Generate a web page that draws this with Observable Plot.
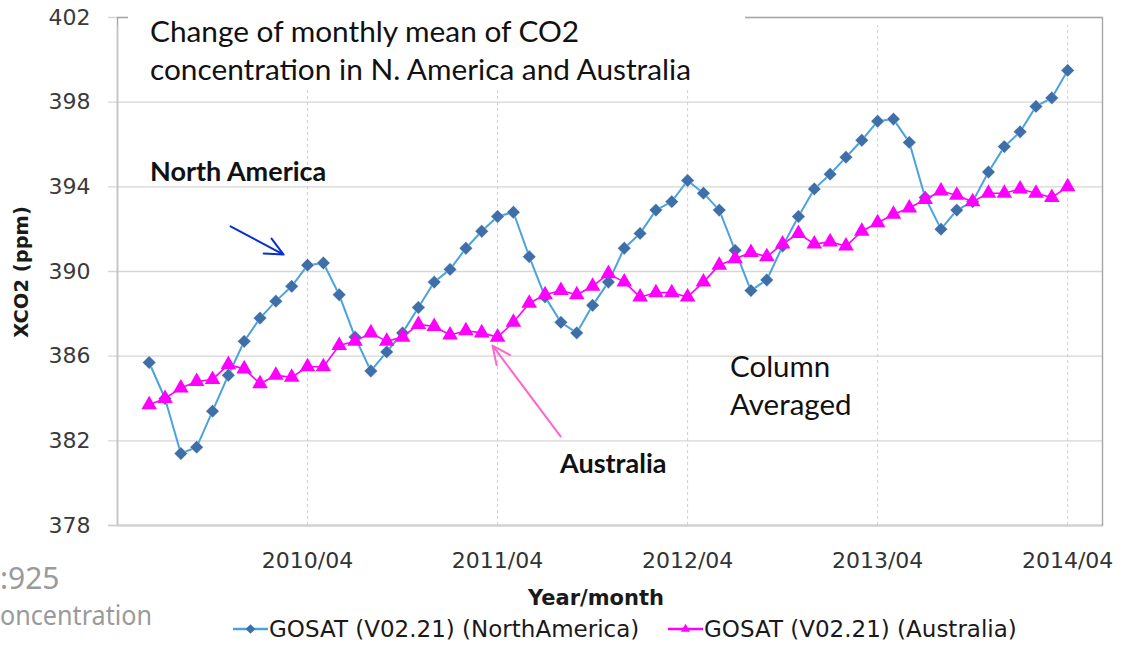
<!DOCTYPE html>
<html>
<head>
<meta charset="utf-8">
<script src="https://cdn.jsdelivr.net/npm/d3@7"></script>
<script src="https://cdn.jsdelivr.net/npm/@observablehq/plot@0.6"></script>
<style>
  body { margin: 0; background: #fff; }
  #chart { position: relative; width: 1130px; height: 649px; overflow: hidden; }
</style>
</head>
<body>
<div id="chart"></div>
<script>
// ---- Data ----
const months = [
  "2009/06","2009/07","2009/08","2009/09","2009/10","2009/11","2009/12",
  "2010/01","2010/02","2010/03","2010/04","2010/05","2010/06","2010/07","2010/08","2010/09","2010/10","2010/11","2010/12",
  "2011/01","2011/02","2011/03","2011/04","2011/05","2011/06","2011/07","2011/08","2011/09","2011/10","2011/11","2011/12",
  "2012/01","2012/02","2012/03","2012/04","2012/05","2012/06","2012/07","2012/08","2012/09","2012/10","2012/11","2012/12",
  "2013/01","2013/02","2013/03","2013/04","2013/05","2013/06","2013/07","2013/08","2013/09","2013/10","2013/11","2013/12",
  "2014/01","2014/02","2014/03","2014/04"
];
const northAmerica = [
  385.7,384.0,381.4,381.7,383.4,385.1,386.7,387.8,388.6,389.3,
  390.3,390.4,388.9,386.9,385.3,386.2,387.1,388.3,389.5,390.1,
  391.1,391.9,392.6,392.8,390.7,388.8,387.6,387.1,388.4,389.5,
  391.1,391.8,392.9,393.3,394.3,393.7,392.9,391.0,389.1,389.6,
  391.2,392.6,393.9,394.6,395.4,396.2,397.1,397.2,396.1,393.5,
  392.0,392.9,393.3,394.7,395.9,396.6,397.8,398.2,399.5
];
const australia = [
  383.7,384.0,384.5,384.8,384.9,385.6,385.4,384.7,385.1,385.0,
  385.5,385.5,386.5,386.7,387.1,386.7,386.9,387.5,387.4,387.0,
  387.2,387.1,386.9,387.6,388.5,388.9,389.1,388.9,389.3,389.9,
  389.5,388.8,389.0,389.0,388.8,389.5,390.3,390.6,390.9,390.7,
  391.3,391.8,391.3,391.4,391.2,391.9,392.3,392.7,393.0,393.4,
  393.8,393.6,393.3,393.7,393.7,393.9,393.7,393.5,394.0
];
const seriesNames = ["GOSAT (V02.21) (NorthAmerica)", "GOSAT (V02.21) (Australia)"];
const xTickMonths = ["2010/04","2011/04","2012/04","2013/04","2014/04"];
const yTicks = [378, 382, 386, 390, 394, 398, 402];

const titleLines = ["Change of monthly mean of CO2", "concentration in N. America and Australia"];
const yLabel = "XCO2 (ppm)";
const xLabel = "Year/month";

// ---- Build tables ----
const na = months.map((m, i) => ({ i, month: m, series: seriesNames[0], value: northAmerica[i] }));
const au = months.map((m, i) => ({ i, month: m, series: seriesNames[1], value: australia[i] }));
const xTickIdx = xTickMonths.map(m => months.indexOf(m));

const colors = { naLine: "#4ba3dd", naMark: "#3e6fa8", au: "#ff00ff" };

// annotation arrows (data coordinates)
const arrows = [
  { x1: 5.14, y1: 392.13, x2: 8.49, y2: 390.80, color: "#0a2fd0" },
  { x1: 25.98, y1: 382.21, x2: 21.68, y2: 386.50, color: "#ff66cc" }
];

const plot = Plot.plot({
  width: 1130,
  height: 649,
  marginLeft: 117,
  marginRight: 28,
  marginTop: 17,
  marginBottom: 124,
  style: { fontFamily: "DejaVu Sans", background: "#fff", overflow: "visible" },
  x: { domain: [-2, 60.2], axis: null },
  y: { domain: [378, 402], axis: null },
  marks: [
    Plot.ruleY(yTicks, { stroke: "#d6d6d6", strokeWidth: 1.4, insetLeft: -9 }),
    Plot.ruleX(xTickIdx, { y1: 378, y2: 402, stroke: "#cfcfcf", strokeWidth: 1, strokeDasharray: "3,3", insetBottom: -8 }),
    Plot.frame({ stroke: "#a6a6a6", strokeWidth: 1.4 }),
    Plot.ruleX([-2], { y1: 378, y2: 402, stroke: "#c4c4c4", strokeWidth: 1.4, insetBottom: -8 }),
    Plot.ruleY([378], { stroke: "#cfcfcf", strokeWidth: 1.4, insetLeft: -9 }),
    Plot.axisY(yTicks, { tickSize: 0, tickPadding: 27, fontSize: 22, fill: "#3a3a3a", label: null }),
    Plot.axisX(xTickIdx, { tickSize: 0, tickPadding: 27, fontSize: 22, fill: "#333", label: null, tickFormat: i => months[i] }),
    Plot.line(na, { x: "i", y: "value", stroke: colors.naLine, strokeWidth: 2 }),
    Plot.dot(na, { x: "i", y: "value", symbol: "diamond2", r: 6, fill: colors.naMark, stroke: "#ffffff", strokeWidth: 0.6, strokeOpacity: 0.6 }),
    Plot.line(au, { x: "i", y: "value", stroke: colors.au, strokeWidth: 1.6 }),
    Plot.dot(au, { x: "i", y: "value", symbol: "triangle", r: 5.8, fill: colors.au, stroke: "none" }),
    Plot.arrow(arrows, { x1: "x1", y1: "y1", x2: "x2", y2: "y2", stroke: "color", strokeWidth: 2, headLength: 15, headAngle: 50 })
  ]
});

document.getElementById("chart").appendChild(plot);

// ---- Annotations, titles, legend ----
const svg = d3.select(plot);
// white title box hiding the top-left of the grid
svg.append("rect").attr("x", 128).attr("y", 0).attr("width", 617).attr("height", 90).attr("fill", "#fff");

const title = svg.append("text").attr("text-anchor", "start").attr("font-family", "Lato").attr("font-size", 29.8).attr("fill", "#111");
titleLines.forEach((t, k) => title.append("tspan").attr("x", 150).attr("y", 42 + k * 38).text(t));

svg.append("text").attr("text-anchor", "start").attr("x", 150).attr("y", 181).attr("font-family", "Lato").attr("font-weight", "bold")
  .attr("font-size", 27).attr("fill", "#111").text("North America");
svg.append("text").attr("text-anchor", "start").attr("x", 560).attr("y", 473).attr("font-family", "Lato").attr("font-weight", "bold")
  .attr("font-size", 27).attr("fill", "#111").text("Australia");
const col = svg.append("text").attr("text-anchor", "start").attr("font-family", "Lato").attr("font-size", 29.5).attr("fill", "#111");
col.append("tspan").attr("x", 730).attr("y", 377).text("Column");
col.append("tspan").attr("x", 730).attr("y", 415).text("Averaged");

// axis titles
svg.append("text").attr("transform", "translate(28,272) rotate(-90)").attr("text-anchor", "middle")
  .attr("font-family", "DejaVu Sans").attr("font-weight", "bold").attr("font-size", 19.5).attr("fill", "#1a1a1a").text(yLabel);
svg.append("text").attr("x", 596).attr("y", 605).attr("text-anchor", "middle")
  .attr("font-family", "DejaVu Sans").attr("font-weight", "bold").attr("font-size", 21).attr("fill", "#1a1a1a").text(xLabel);

// cropped fragments at the bottom-left
svg.append("text").attr("text-anchor", "start").attr("x", 0).attr("y", 589).attr("font-family", "Noto Sans").attr("font-size", 30)
  .attr("fill", "#9a9a9a").text(":925");
svg.append("text").attr("text-anchor", "start").attr("x", 0).attr("y", 625).attr("font-family", "Noto Sans").attr("font-size", 28)
  .attr("fill", "#9a9a9a").attr("textLength", 152).attr("lengthAdjust", "spacingAndGlyphs").text("oncentration");

// legend
const legend = [
  { x: 233, name: seriesNames[0], line: colors.naLine, mark: colors.naMark, symbol: d3.symbolDiamond2 },
  { x: 668, name: seriesNames[1], line: colors.au, mark: colors.au, symbol: d3.symbolTriangle2 }
];
legend.forEach(l => {
  const g = svg.append("g");
  g.append("line").attr("x1", l.x).attr("x2", l.x + 35).attr("y1", 629).attr("y2", 629)
    .attr("stroke", l.line).attr("stroke-width", 2.5);
  g.append("path").attr("d", d3.symbol(l.symbol, 60)()).attr("transform", `translate(${l.x + 17.5},629)`)
    .attr("fill", l.mark);
  g.append("text").attr("text-anchor", "start").attr("x", l.x + 36).attr("y", 637).attr("font-family", "DejaVu Sans").attr("font-size", 23)
    .attr("fill", "#1a1a1a").text(l.name);
});
</script>
</body>
</html>
